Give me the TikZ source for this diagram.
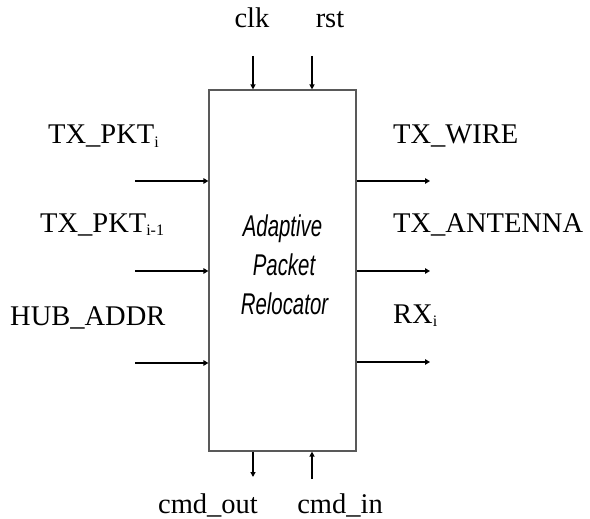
\documentclass[tikz,border=0pt]{standalone}
\usepackage{fontspec}
\setmainfont{Liberation Serif}
\newfontfamily\narrowsans[FakeStretch=0.68]{Liberation Sans}
\usetikzlibrary{arrows.meta}
\tikzset{
  lbl/.style={inner sep=0pt, font=\fontsize{28.5}{30}\selectfont},
  ctr/.style={inner sep=0pt, font=\narrowsans\itshape\fontsize{30}{32}\selectfont},
  bus/.style={line width=2.4pt, -{Triangle[length=5pt,width=5.5pt]}},
  sig/.style={line width=1.4pt, -{Triangle[length=5pt,width=5pt]}},
}
\newcommand{\sbs}[1]{\raisebox{-3pt}{\fontsize{16}{16}\selectfont #1}}
\begin{document}
\begin{tikzpicture}[x=1pt,y=-1pt]
\useasboundingbox (0,0) rectangle (590,519);
\node[draw=black!65, line width=1.2pt, minimum width=147pt, minimum height=361pt, inner sep=0pt] (box) at (282.5,270.5) {};
% centre text
\node[ctr, anchor=base] (t1) at (282.5,236.5) {Adaptive};
\node[ctr, anchor=base] (t2) at (284,275) {Packet};
\node[ctr, anchor=base] (t3) at (284.5,314) {Relocator};
% labels
\node[lbl, anchor=base] (clk) at (252,28) {clk};
\node[lbl, anchor=base] (rst) at (330,28) {rst};
\node[lbl, anchor=base west] (li1) at (48,144) {TX\_PKT\sbs{i}};
\node[lbl, anchor=base west] (li2) at (40,232) {TX\_PKT\sbs{i-1}};
\node[lbl, anchor=base west] (li3) at (10,325) {HUB\_ADDR};
\node[lbl, anchor=base west] (lo1) at (393,143) {TX\_WIRE};
\node[lbl, anchor=base west] (lo2) at (393,233) {TX\_ANTENNA};
\node[lbl, anchor=base west] (lo3) at (393,323) {RX\sbs{i}};
\node[lbl, text depth=3pt, anchor=base] (lco) at (208,513) {cmd\_out};
\node[lbl, text depth=3pt, anchor=base] (lci) at (340,513) {cmd\_in};
% free ends
\coordinate (i1) at (135,181);
\coordinate (i2) at (135,271);
\coordinate (i3) at (135,363);
\coordinate (o1) at (430,181);
\coordinate (o2) at (430,271);
\coordinate (o3) at (430,362);
\coordinate (cs) at (253,56);
\coordinate (rs) at (312,56);
\coordinate (co) at (253,477);
\coordinate (ci) at (312,479);
% connectors
\draw[bus] (i1) -- (i1 -| box.west);
\draw[bus] (i2) -- (i2 -| box.west);
\draw[bus] (i3) -- (i3 -| box.west);
\draw[bus] (o1 -| box.east) -- (o1);
\draw[bus] (o2 -| box.east) -- (o2);
\draw[bus] (o3 -| box.east) -- (o3);
\draw[sig] (cs) -- (cs |- box.north);
\draw[sig] (rs) -- (rs |- box.north);
\draw[sig] (co |- box.south) -- (co);
\draw[sig] (ci) -- (ci |- box.south);
\end{tikzpicture}
\end{document}
